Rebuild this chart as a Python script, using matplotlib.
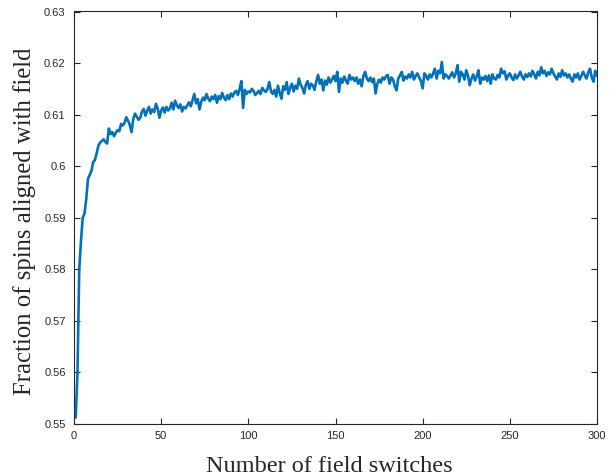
import matplotlib
matplotlib.use("Agg")
import matplotlib.pyplot as plt
import numpy as np

switches = np.arange(1, 301)
fraction = [
    0.5513, 0.5600, 0.5800, 0.5855, 0.5900, 0.5908, 0.5935, 0.5975, 0.5983, 0.5991,
    0.6008, 0.6012, 0.6025, 0.6040, 0.6046, 0.6049, 0.6052, 0.6047, 0.6044, 0.6073,
    0.6062, 0.6066, 0.6058, 0.6065, 0.6070, 0.6068, 0.6082, 0.6079, 0.6084, 0.6095,
    0.6088, 0.6080, 0.6066, 0.6092, 0.6102, 0.6096, 0.6090, 0.6094, 0.6106, 0.6111,
    0.6098, 0.6108, 0.6115, 0.6102, 0.6110, 0.6105, 0.6121, 0.6112, 0.6094, 0.6108,
    0.6114, 0.6104, 0.6115, 0.6108, 0.6112, 0.6123, 0.6110, 0.6127, 0.6118, 0.6113,
    0.6120, 0.6106, 0.6115, 0.6112, 0.6118, 0.6124, 0.6116, 0.6128, 0.6140, 0.6122,
    0.6130, 0.6110, 0.6125, 0.6133, 0.6128, 0.6140, 0.6131, 0.6126, 0.6135, 0.6130,
    0.6138, 0.6123, 0.6136, 0.6130, 0.6142, 0.6133, 0.6128, 0.6138, 0.6130, 0.6141,
    0.6135, 0.6143, 0.6146, 0.6138, 0.6150, 0.6165, 0.6113, 0.6148, 0.6140, 0.6145,
    0.6143, 0.6150, 0.6146, 0.6138, 0.6142, 0.6146, 0.6140, 0.6152, 0.6147, 0.6144,
    0.6150, 0.6163, 0.6145, 0.6140, 0.6148, 0.6135, 0.6156, 0.6142, 0.6131, 0.6155,
    0.6148, 0.6163, 0.6140, 0.6152, 0.6160, 0.6145, 0.6156, 0.6150, 0.6170, 0.6158,
    0.6152, 0.6141, 0.6158, 0.6165, 0.6150, 0.6160, 0.6156, 0.6148, 0.6165, 0.6177,
    0.6160, 0.6168, 0.6147, 0.6166, 0.6158, 0.6172, 0.6162, 0.6168, 0.6175, 0.6165,
    0.6183, 0.6144, 0.6170, 0.6162, 0.6174, 0.6166, 0.6160, 0.6177, 0.6168, 0.6172,
    0.6165, 0.6172, 0.6160, 0.6168, 0.6155, 0.6175, 0.6183, 0.6170, 0.6165, 0.6172,
    0.6163, 0.6170, 0.6141, 0.6160, 0.6168, 0.6162, 0.6172, 0.6168, 0.6175, 0.6177,
    0.6160, 0.6172, 0.6168, 0.6155, 0.6147, 0.6170, 0.6176, 0.6183, 0.6166, 0.6174,
    0.6170, 0.6178, 0.6172, 0.6183, 0.6168, 0.6175, 0.6180, 0.6172, 0.6165, 0.6151,
    0.6180, 0.6175, 0.6168, 0.6178, 0.6172, 0.6180, 0.6189, 0.6170, 0.6185, 0.6180,
    0.6202, 0.6170, 0.6178, 0.6175, 0.6170, 0.6176, 0.6182, 0.6172, 0.6180, 0.6196,
    0.6164, 0.6183, 0.6178, 0.6168, 0.6186, 0.6175, 0.6157, 0.6170, 0.6178, 0.6166,
    0.6174, 0.6186, 0.6160, 0.6172, 0.6168, 0.6175, 0.6165, 0.6176, 0.6160, 0.6178,
    0.6170, 0.6168, 0.6177, 0.6172, 0.6189, 0.6180, 0.6184, 0.6168, 0.6176, 0.6180,
    0.6172, 0.6167, 0.6178, 0.6170, 0.6176, 0.6183, 0.6174, 0.6168, 0.6178, 0.6173,
    0.6180, 0.6174, 0.6185, 0.6178, 0.6170, 0.6183, 0.6176, 0.6192, 0.6180, 0.6185,
    0.6175, 0.6182, 0.6178, 0.6189, 0.6180, 0.6174, 0.6168, 0.6180, 0.6173, 0.6186,
    0.6176, 0.6180, 0.6172, 0.6178, 0.6170, 0.6164, 0.6178, 0.6172, 0.6180, 0.6168,
    0.6175, 0.6183, 0.6176, 0.6170, 0.6182, 0.6189, 0.6172, 0.6164, 0.6185, 0.6176,
]
xticks = [0, 50, 100, 150, 200, 250, 300]
yticks = [0.55, 0.56, 0.57, 0.58, 0.59, 0.60, 0.61, 0.62, 0.63]
ytick_labels = ["0.55", "0.56", "0.57", "0.58", "0.59", "0.6", "0.61", "0.62", "0.63"]

axcol = (0.15, 0.15, 0.15)
W, H = 609, 476
fig = plt.figure(figsize=(W / 100, H / 100), dpi=100)
ax = fig.add_axes([74 / W, 52 / H, 523 / W, 412.5 / H])
ax.plot(switches, fraction, color=(0, 0.447, 0.741), linewidth=1.9)
ax.set_xlim(0, 300)
ax.set_ylim(0.55, 0.63)
ax.set_xticks(xticks)
ax.set_xticklabels([str(t) for t in xticks])
ax.set_yticks(yticks)
ax.set_yticklabels(ytick_labels)
for s in ax.spines.values():
    s.set_color(axcol)
    s.set_linewidth(0.8)
ax.tick_params(direction="in", top=True, right=True, length=4, width=0.8,
               color=axcol, labelcolor=axcol, labelsize=8)
ax.tick_params(axis="x", pad=5)
ax.tick_params(axis="y", pad=6)
for lab in ax.get_xticklabels() + ax.get_yticklabels():
    lab.set_family("Liberation Sans")
fig.text(329 / W, 4 / H, "Number of field switches", family="Liberation Serif",
         fontsize=17.5, color=axcol, ha="center", va="baseline")
fig.text(31.5 / W, (H - 221.5) / H, "Fraction of spins aligned with field",
         family="Liberation Serif", fontsize=17.8, color=axcol, ha="center",
         va="baseline", rotation=90, rotation_mode="anchor")
fig.savefig("out.png", dpi=100)
